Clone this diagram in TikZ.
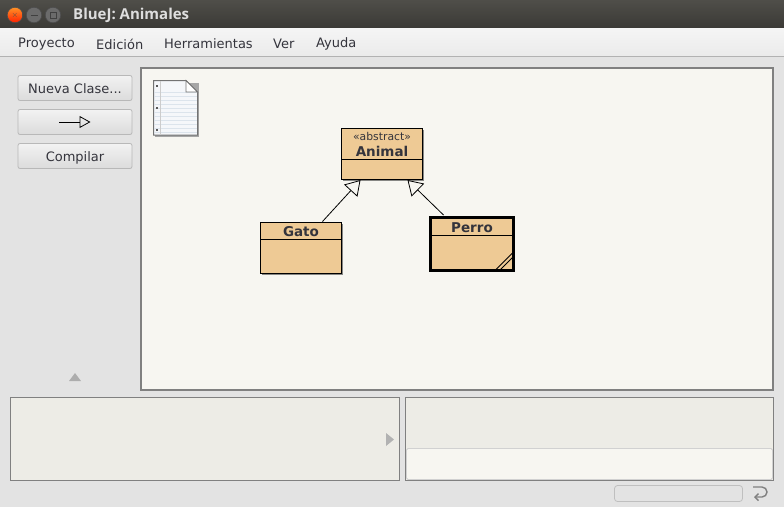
\documentclass[tikz,border=0pt]{standalone}
\usepackage{fontspec}
\setmainfont{DejaVu Sans}
\newfontfamily\titlefont{Open Sans}
\usetikzlibrary{arrows.meta,shadows}
\definecolor{winbg}{HTML}{E3E3E3}
\definecolor{canvasbg}{HTML}{F7F6F1}
\definecolor{panelbg}{HTML}{EDECE6}
\definecolor{classfill}{HTML}{EECA95}
\definecolor{framegray}{HTML}{808080}
\definecolor{inktext}{HTML}{34343C}
\definecolor{barlight}{HTML}{4F4E49}
\definecolor{bardark}{HTML}{3B3A36}
\definecolor{noterule}{HTML}{DCE4EC}
\definecolor{notefill}{HTML}{F5F7FA}
\tikzset{
    menuitem/.style={anchor=west, inner sep=0pt, text=inktext, font=\fontsize{13}{15}\selectfont},
    toolbtn/.style={draw=black!28, line width=0.8pt, rounded corners=2pt, top color=black!5, bottom color=black!14, minimum width=114pt, minimum height=25pt, inner sep=0pt, text height=10pt, text depth=0pt, text=inktext, font=\fontsize{13}{15}\selectfont},
    panel/.style={draw=framegray, line width=1pt, inner sep=0pt, outer sep=0pt, anchor=north west},
    classbox/.style={draw=black, line width=1pt, fill=classfill, minimum width=81pt, minimum height=51pt, inner sep=0pt, drop shadow={shadow xshift=1pt, shadow yshift=-1pt, opacity=0.45, fill=black}},
    classname/.style={inner sep=0pt, text=inktext, font=\fontsize{13.5}{15}\selectfont\bfseries},
    winbtn/.style={circle, draw=black!70, line width=0.6pt, minimum size=15.5pt, inner sep=0pt},
    inherit/.style={draw=black, line width=0.8pt, -{Triangle[open, fill=canvasbg, length=14.5pt, width=18pt, line width=0.8pt]}}
}
\begin{document}
\begin{tikzpicture}[x=1pt, y=-1pt]
    \useasboundingbox (0,0) rectangle (784,507);
    % Window and title bar
    \fill[winbg] (0,0) rectangle (784,507);
    \fill[top color=barlight, bottom color=bardark] (0,0) rectangle (784,27.5);
    \node[winbtn, top color=orange!85!white, bottom color=red!75!orange] (closebtn) at (15,15) {};
    \node[winbtn, fill=black!58] (minbtn) at (34,15) {};
    \node[winbtn, fill=black!58] (maxbtn) at (53,15) {};
    \node[inner sep=0pt, text=black!70, font=\fontsize{8}{8}\selectfont] at (closebtn) {$\times$};
    \draw[black!75, line width=1pt] (30.5,15) -- (37.5,15);
    \draw[black!75, line width=1pt] (50,12) rectangle (56,18);
    \node[anchor=west, inner sep=0pt, text=black!13, font=\titlefont\fontsize{15}{17}\selectfont\bfseries] (wintitle) at (73,15) {BlueJ: Animales};

    % Menu bar
    \fill[top color=white!96!black, bottom color=black!8] (0,28) rectangle (784,56);
    \draw[black!30, line width=1pt] (0,56.5) -- (784,56.5);
    \node[menuitem] (proyecto) at (18,44) {Proyecto};
    \node[menuitem] (edicion) at (96,44) {Edición};
    \node[menuitem] (herramientas) at (164,44) {Herramientas};
    \node[menuitem] (ver) at (273,44) {Ver};
    \node[menuitem] (ayuda) at (316,44) {Ayuda};

    % Buttons on the left
    \node[toolbtn] (nuevaclase) at (75,88) {Nueva Clase...};
    \node[toolbtn] (flecha) at (75,122) {};
    \node[toolbtn] (compilar) at (75,156) {Compilar};
    \coordinate (flechaini) at (59,122);
    \coordinate (flechafin) at (90.5,122);
    \draw[black, line width=0.8pt, -{Triangle[open, length=11pt, width=12pt, line width=0.8pt]}] (flechaini) -- (flechafin);
    \fill[black!32] (69,381) -- (75,373) -- (81,381) -- cycle;

    % Class diagram canvas
    \node[panel, fill=canvasbg, line width=1.6pt, minimum width=632pt, minimum height=322pt] (canvas) at (141,68) {};

    % Note icon
    \fill[black!35] (155,83) rectangle (198.5,136.5);
    \draw[black!55, fill=notefill, line width=1pt] (153.5,80.5) -- (186,80.5) -- (197.5,92) -- (197.5,135) -- (153.5,135) -- cycle;
    \foreach \y in {92,96,...,132} {
        \draw[noterule, line width=0.8pt] (154,\y) -- (197,\y);
    }
    \draw[black!20, line width=0.8pt] (160,81) -- (160,134.5);
    \foreach \y in {85,107,129} {
        \fill[black!65] (155.5,\y) rectangle (157.5,\y+2);
    }
    \draw[black!55, fill=white, line width=0.8pt] (186,80.5) -- (186,92) -- (197.5,92) -- cycle;

    % Classes
    \node[classbox] (animal) at (382,154) {};
    \node[classbox] (gato) at (301,248) {};
    \node[classbox, line width=3pt, minimum width=83pt, minimum height=53.5pt] (perro) at (472,244) {};
    \draw[black, line width=1pt] (animal.west |- 0,159.5) -- (animal.east |- 0,159.5);
    \draw[black, line width=1pt] (gato.west |- 0,239.5) -- (gato.east |- 0,239.5);
    \draw[black, line width=1pt] (perro.west |- 0,235.5) -- (perro.east |- 0,235.5);
    \draw[black, line width=0.8pt] (496,269.5) -- (512.5,253);
    \draw[black, line width=0.8pt] (500.5,269.5) -- (512.5,257.5);
    \node[inner sep=0pt, text=inktext, font=\fontsize{10.8}{12}\selectfont] (estereotipo) at (382,136) {«abstract»};
    \node[classname] (animalname) at (382,151.5) {Animal};
    \node[classname] (gatoname) at (301,231.5) {Gato};
    \node[classname] (perroname) at (472,227.5) {Perro};

    % Inheritance arrows
    \coordinate (gatoini) at (322.5,221.5);
    \coordinate (gatofin) at (360.5,180);
    \coordinate (perroini) at (443.5,215);
    \coordinate (perrofin) at (407.5,180);
    \draw[inherit] (gatoini) -- (gatofin);
    \draw[inherit] (perroini) -- (perrofin);

    % Lower panels
    \node[panel, fill=panelbg, minimum width=388.5pt, minimum height=83pt] (objectbench) at (10.5,397.5) {};
    \node[panel, fill=panelbg, minimum width=368pt, minimum height=83pt] (codepad) at (405.5,397.5) {};
    \fill[black!30] (386,433) -- (394,439.5) -- (386,446) -- cycle;
    \draw[black!18, fill=canvasbg, line width=0.8pt, rounded corners=1.5pt] (406.5,448.5) rectangle (772.5,479.5);

    % Status box and return icon
    \draw[black!25, line width=0.8pt, rounded corners=3pt] (614.5,485.5) rectangle (742.5,501.5);
    \coordinate (retornoini) at (753,487);
    \coordinate (retornofin) at (754,497);
    \draw[black!50, line width=1.4pt, -{Straight Barb[length=3.5pt, width=7pt, line width=1.4pt]}] (retornoini) -- (762,487) arc (-90:90:5) -- (retornofin);
\end{tikzpicture}
\end{document}
